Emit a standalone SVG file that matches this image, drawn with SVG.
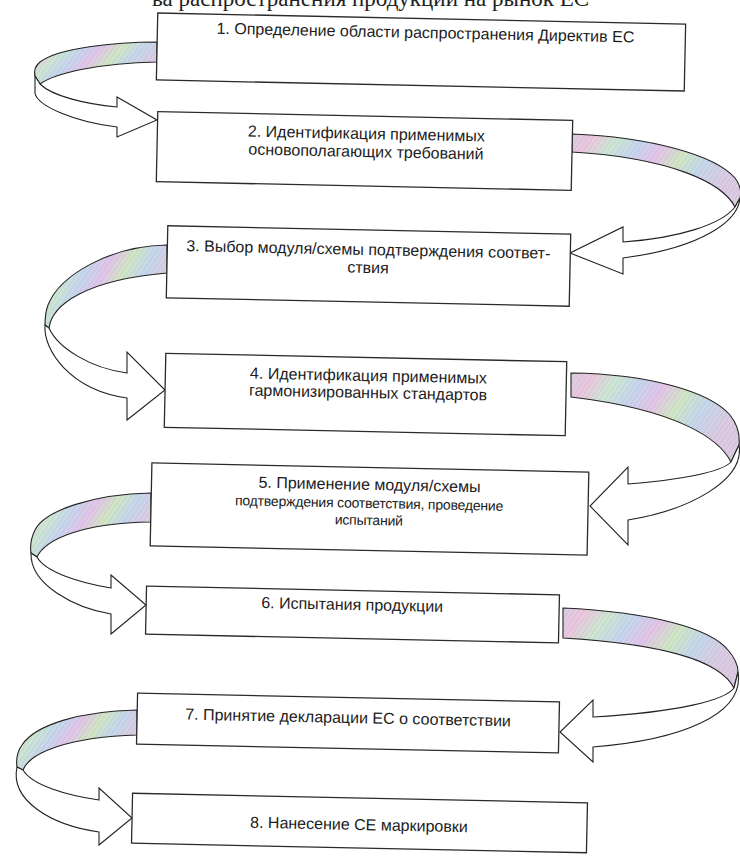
<svg xmlns="http://www.w3.org/2000/svg" width="740" height="860" viewBox="0 0 740 860">
<defs>
  <linearGradient id="rb" x1="0" y1="0" x2="1" y2="0.35">
    <stop offset="0" stop-color="#d6d0e2"/>
    <stop offset="0.12" stop-color="#ecc6df"/>
    <stop offset="0.26" stop-color="#cde7d3"/>
    <stop offset="0.4" stop-color="#c7d6ee"/>
    <stop offset="0.54" stop-color="#e3c5e9"/>
    <stop offset="0.68" stop-color="#d1e7c4"/>
    <stop offset="0.82" stop-color="#c5d8ec"/>
    <stop offset="1" stop-color="#dccbe2"/>
  </linearGradient>
  <pattern id="grain" width="4" height="4" patternUnits="userSpaceOnUse" patternTransform="rotate(35)">
    <line x1="0" y1="0" x2="0" y2="4" stroke="#6e6e80" stroke-width="0.8" stroke-opacity="0.28"/>
  </pattern>
</defs>
<style>
  .box{fill:#fff;stroke:#2a2a2a;stroke-width:1.3}
  .t{font-family:"Liberation Sans",Arial,sans-serif;font-size:16px;fill:#1c1c1c;text-anchor:middle}
  .ts{font-size:14px;letter-spacing:-0.2px}
  .rib{fill:url(#rb);stroke:#222;stroke-width:1.1}
  .grain{fill:url(#grain);stroke:none}
  .arw{fill:#fff;stroke:#222;stroke-width:1.1;stroke-linejoin:miter}
  .page{font-family:"Liberation Serif","Times New Roman",serif;font-size:23px;fill:#222}
</style>
<rect width="740" height="860" fill="#fff"/>
<text class="page" x="152" y="6">ва распространения продукции на рынок ЕС</text>

<g id="connectors">
  <!-- 1 -> 2 (left) -->
  <g id="c1">
    <path class="rib" d="M157,42 C115,42 58,48 40,62 C34,67 34,72 35,76 L40,84 C55,73 100,63 157,62 Z"/>
    <path class="grain" d="M157,42 C115,42 58,48 40,62 C34,67 34,72 35,76 L40,84 C55,73 100,63 157,62 Z"/>
    <path class="arw" d="M35,76 L35,93 C37,106 75,122 117,127 L117,137 L157,120 L117,97 L117,107 C85,104 52,96 40,84 Z"/>
  </g>
  <!-- 2 -> 3 (right) -->
  <g id="c2">
    <path class="rib" d="M572,134 C650,137 715,155 735,178 C741,186 741,194 740,198 L735,207 C722,182 670,158 572,152 Z"/>
    <path class="grain" d="M572,134 C650,137 715,155 735,178 C741,186 741,194 740,198 L735,207 C722,182 670,158 572,152 Z"/>
    <path class="arw" d="M740,198 C738,222 700,248 623,258 L623,274 L570,253 L623,227 L623,242 C680,238 722,224 735,207 Z"/>
  </g>
  <!-- 3 -> 4 (left) -->
  <g id="c3">
    <path class="rib" d="M167,245 C110,246 60,275 48,305 C45,313 45,320 45,325 L49,328 C52,305 85,280 167,273 Z"/>
    <path class="grain" d="M167,245 C110,246 60,275 48,305 C45,313 45,320 45,325 L49,328 C52,305 85,280 167,273 Z"/>
    <path class="arw" d="M45,325 C43,350 70,390 127,398 L127,420 L165,390 L127,352 L127,373 C90,368 58,348 49,328 Z"/>
  </g>
  <!-- 4 -> 5 (right) -->
  <g id="c4">
    <path class="rib" d="M571,373 C650,374 710,392 730,415 C738,425 740,435 739,445 L731,462 C720,440 680,410 571,397 Z"/>
    <path class="grain" d="M571,373 C650,374 710,392 730,415 C738,425 740,435 739,445 L731,462 C720,440 680,410 571,397 Z"/>
    <path class="arw" d="M739,445 C745,480 690,510 628,520 L628,545 L590,506 L628,467 L628,484 C680,480 722,472 731,462 Z"/>
  </g>
  <!-- 5 -> 6 (left) -->
  <g id="c5">
    <path class="rib" d="M151,493 C95,494 45,510 35,530 C31,538 30,546 31,553 L37,557 C45,540 80,523 151,522 Z"/>
    <path class="grain" d="M151,493 C95,494 45,510 35,530 C31,538 30,546 31,553 L37,557 C45,540 80,523 151,522 Z"/>
    <path class="arw" d="M31,553 C30,585 75,608 111,614 L111,634 L146,605 L111,575 L111,588 C80,583 45,572 37,557 Z"/>
  </g>
  <!-- 6 -> 7 (right) -->
  <g id="c6">
    <path class="rib" d="M563,608 C650,612 710,628 728,650 C735,658 738,665 738,672 L734,688 C722,665 680,645 563,638 Z"/>
    <path class="grain" d="M563,608 C650,612 710,628 728,650 C735,658 738,665 738,672 L734,688 C722,665 680,645 563,638 Z"/>
    <path class="arw" d="M738,672 C745,715 680,740 593,747 L593,762 L560,732 L593,700 L593,717 C680,712 725,700 734,688 Z"/>
  </g>
  <!-- 7 -> 8 (left) -->
  <g id="c7">
    <path class="rib" d="M137,710 C80,711 35,725 22,745 C17,752 16,760 17,767 L23,770 C30,752 70,737 137,735 Z"/>
    <path class="grain" d="M137,710 C80,711 35,725 22,745 C17,752 16,760 17,767 L23,770 C30,752 70,737 137,735 Z"/>
    <path class="arw" d="M17,767 C10,800 50,825 99,832 L99,845 L132,818 L99,788 L99,800 C65,795 32,785 23,770 Z"/>
  </g>
</g>

<g id="n1" transform="rotate(1.2 421 52)">
  <rect class="box" x="157" y="18.5" width="528" height="67"/>
  <text class="t" x="425" y="38">1. Определение области распространения Директив ЕС</text>
</g>
<g id="n2" transform="rotate(1.2 364.5 151)">
  <rect class="box" x="157" y="116" width="415" height="70"/>
  <text class="t" x="366" y="139">2. Идентификация применимых</text>
  <text class="t" x="366" y="157">основополагающих требований</text>
</g>
<g id="n3" transform="rotate(1.2 368.5 266)">
  <rect class="box" x="167" y="230" width="403" height="72"/>
  <text class="t" x="368" y="255">3. Выбор модуля/схемы подтверждения соответ-</text>
  <text class="t" x="368" y="273">ствия</text>
</g>
<g id="n4" transform="rotate(1.2 365.5 394.5)">
  <rect class="box" x="165" y="357.5" width="401" height="74"/>
  <text class="t" x="368" y="381">4. Идентификация применимых</text>
  <text class="t" x="368" y="398">гармонизированных стандартов</text>
</g>
<g id="n5" transform="rotate(1.2 369.5 509)">
  <rect class="box" x="151" y="467.5" width="437" height="83"/>
  <text class="t" x="369" y="490">5. Применение модуля/схемы</text>
  <text class="t ts" x="369" y="508">подтверждения соответствия, проведение</text>
  <text class="t ts" x="369" y="525">испытаний</text>
</g>
<g id="n6" transform="rotate(1.2 352.5 614.5)">
  <rect class="box" x="146" y="590.5" width="413" height="48"/>
  <text class="t" x="352" y="610">6. Испытания продукции</text>
</g>
<g id="n7" transform="rotate(1.2 348 723)">
  <rect class="box" x="137" y="697.5" width="422" height="51"/>
  <text class="t" x="348" y="723">7. Принятие декларации ЕС о соответствии</text>
</g>
<g id="n8" transform="rotate(1.2 359.5 823)">
  <rect class="box" x="132" y="798" width="455" height="50"/>
  <text class="t" x="359" y="830">8. Нанесение СЕ маркировки</text>
</g>
</svg>
